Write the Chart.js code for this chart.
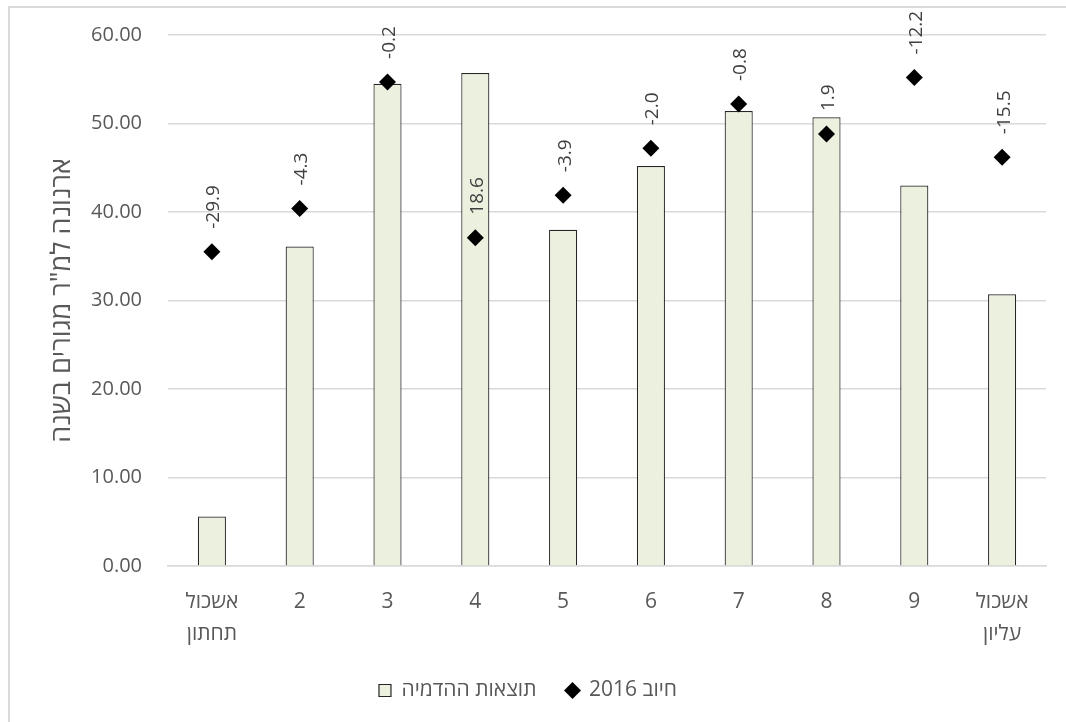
<!DOCTYPE html>
<html lang="he">
<head>
<meta charset="utf-8">
<title>ארנונה למ"ר מגורים בשנה</title>
<script src="https://cdn.jsdelivr.net/npm/chart.js@4"></script>
<style>
  html, body { margin: 0; padding: 0; background: #ffffff; overflow: hidden; }
  .chart-frame {
    position: absolute;
    left: 8px;
    top: 6px;
    width: 1056px;
    height: 714px;
    border-left: 2px solid #d9d9d9;
    border-top: 2px solid #d9d9d9;
  }
</style>
</head>
<body>
<div class="chart-frame">
  <canvas id="arnonaChart" width="1056" height="714"></canvas>
</div>
<script>
// clusters (lowest to highest)
const categories = [['אשכול', 'תחתון'], '2', '3', '4', '5', '6', '7', '8', '9', ['אשכול', 'עליון']];
// simulated charge per sqm
const simulated = [5.6, 36.1, 54.5, 55.7, 38.0, 45.2, 51.4, 50.7, 43.0, 30.7];
// actual 2016 charge per sqm
const charge2016 = [35.5, 40.4, 54.7, 37.1, 41.9, 47.2, 52.2, 48.8, 55.2, 46.2];
const yTicks = [0, 10, 20, 30, 40, 50, 60];

const FONT = '"Open Sans", "DejaVu Sans", sans-serif';
const GREY = '#595959';

// difference labels written vertically above each diamond
const gapLabels = {
    id: 'gapLabels',
    afterDatasetsDraw(chart) {
        const meta = chart.getDatasetMeta(1);
        const ctx = chart.ctx;
        ctx.save();
        ctx.direction = 'ltr';
        ctx.font = '19px ' + FONT;
        ctx.fillStyle = '#404040';
        ctx.textAlign = 'left';
        ctx.textBaseline = 'middle';
        meta.data.forEach((pt, i) => {
            const gap = (simulated[i] - charge2016[i]).toFixed(1);
            ctx.save();
            ctx.translate(pt.x + 2, pt.y - 23);
            ctx.rotate(-Math.PI / 2);
            ctx.fillText(gap, 0, 0);
            ctx.restore();
        });
        ctx.restore();
    }
};

const ctx = document.getElementById('arnonaChart').getContext('2d');
new Chart(ctx, {
    type: 'bar',
    data: {
        labels: categories,
        datasets: [{
            label: 'תוצאות ההדמיה',
            data: simulated,
            backgroundColor: '#ebf1de',
            borderColor: '#262626',
            borderWidth: 1.2,
            pointStyle: 'rect',
            barPercentage: 0.32,
            categoryPercentage: 1,
            order: 1
        }, {
            type: 'line',
            label: 'חיוב 2016',
            data: charge2016,
            showLine: false,
            pointStyle: 'rectRot',
            pointRadius: 8.5,
            pointBackgroundColor: '#000000',
            pointBorderColor: '#000000',
            pointBorderWidth: 0,
            backgroundColor: '#000000',
            borderColor: '#000000',
            order: 0
        }]
    },
    options: {
        responsive: false,
        animation: false,
        layout: {
            padding: { left: 0, right: 20, top: 27, bottom: 11 }
        },
        scales: {
            x: {
                grid: { display: false, drawTicks: false },
                border: { color: '#d9d9d9', width: 1.5 },
                afterFit(scale) {
                    scale.height = 84;
                },
                ticks: {
                    color: GREY,
                    font: { family: FONT, size: 21, lineHeight: 1.52 },
                    padding: 20,
                    maxRotation: 0,
                    autoSkip: false
                }
            },
            y: {
                min: 0,
                max: 60,
                afterBuildTicks(scale) {
                    scale.ticks = yTicks.map(v => ({ value: v }));
                },
                afterFit(scale) {
                    scale.width = 158;
                    scale.paddingTop = 0;
                    scale.paddingBottom = 0;
                },
                grid: { color: '#d9d9d9', lineWidth: 1.5, drawTicks: false },
                border: { display: false },
                ticks: {
                    color: GREY,
                    font: { family: FONT, size: 20 },
                    padding: 26,
                    callback: v => Number(v).toFixed(2)
                },
                title: {
                    display: true,
                    text: 'ארנונה למ"ר מגורים בשנה',
                    color: GREY,
                    font: { family: FONT, size: 27 },
                    padding: { top: 36, bottom: 0 }
                }
            }
        },
        plugins: {
            legend: {
                position: 'bottom',
                textDirection: 'rtl',
                labels: {
                    color: GREY,
                    font: { family: FONT, size: 21 },
                    usePointStyle: true,
                    boxWidth: 12,
                    boxHeight: 12,
                    padding: 30,
                    sort: (a, b) => a.datasetIndex - b.datasetIndex
                }
            },
            tooltip: { enabled: false }
        }
    },
    plugins: [gapLabels]
});
</script>
</body>
</html>
